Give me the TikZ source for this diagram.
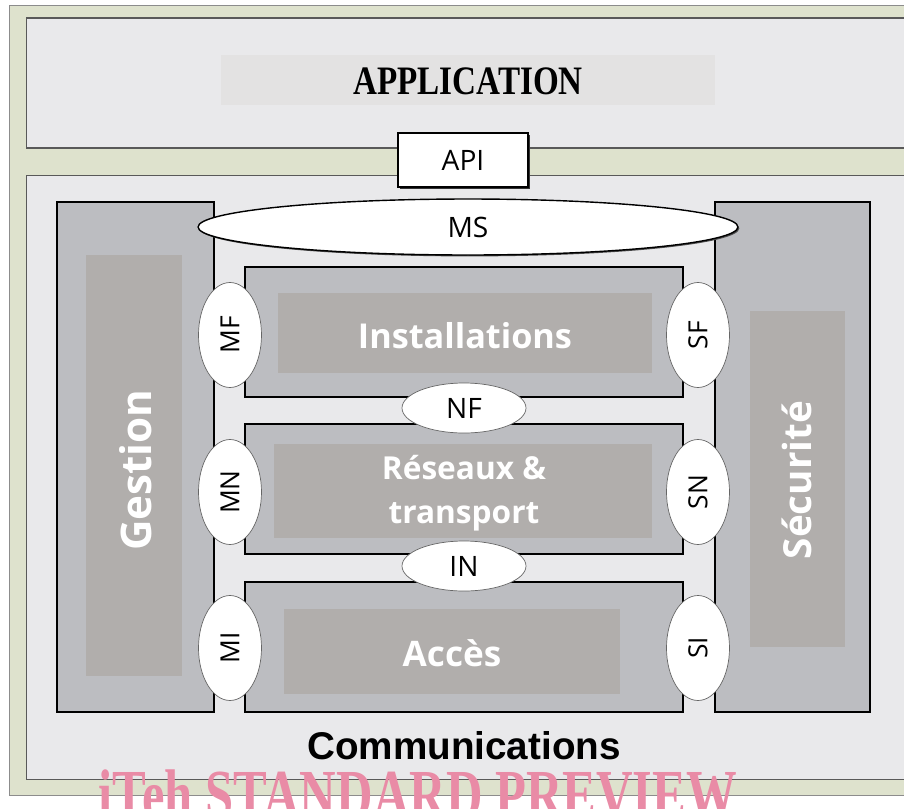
\documentclass[tikz,border=0pt]{standalone}
\usepackage{fontspec}
\setmainfont{Liberation Serif}
\setsansfont{Open Sans}
\newfontfamily\arialbold{Liberation Sans}
\usetikzlibrary{shapes.geometric,shadows}

\definecolor{framegreen}{HTML}{DEE2CD}
\definecolor{panelgray}{HTML}{E9E9EB}
\definecolor{appband}{HTML}{E3E2E2}
\definecolor{colgray}{HTML}{BCBDC1}
\definecolor{bandgray}{HTML}{B1AEAC}
\definecolor{markpink}{HTML}{E98BA6}

\begin{document}
\begin{tikzpicture}[x=0.02cm, y=-0.02cm,
    panel/.style={draw=black!65, fill=panelgray, line width=0.6pt, inner sep=0pt},
    column/.style={draw=black, fill=colgray, line width=0.7pt, inner sep=0pt},
    band/.style={fill=bandgray, inner sep=0pt},
    bigword/.style={text=white, font=\sffamily\bfseries\fontsize{#1}{#1}\selectfont},
    iface/.style={ellipse, draw=black!60, fill=white, line width=0.4pt, inner sep=0pt,
        font=\sffamily\fontsize{16}{16}\selectfont},
    sideface/.style={iface, minimum width=1.26cm, minimum height=2.1cm,
        font=\sffamily\fontsize{15}{15}\selectfont}]
    \useasboundingbox (0,0) rectangle (904,809);
    % frames
    \node[draw=black!45, fill=framegreen, minimum width=18.1cm, minimum height=15.8cm, inner sep=0pt] (frame) at (462,400) {};
    \node[panel, minimum width=17.8cm, minimum height=2.6cm] (app) at (471,83) {};
    \node[fill=appband, minimum width=9.88cm, minimum height=1.0cm, inner sep=0pt] (appband) at (468,80) {};
    \node[font=\bfseries\fontsize{23}{23}\selectfont, xscale=0.82, transform shape] (apptext) at (468,81) {APPLICATION};
    \node[panel, minimum width=17.8cm, minimum height=12.1cm] (comms) at (471,477.5) {};
    \node[draw, fill=white, line width=0.9pt, minimum width=2.6cm, minimum height=1.08cm,
        drop shadow={shadow xshift=1.2pt, shadow yshift=-1.2pt, opacity=1, fill=black!80},
        font=\sffamily\fontsize{16}{16}\selectfont] (api) at (463,160) {API};
    % management and security columns
    \node[column, minimum width=3.14cm, minimum height=10.2cm] (mgmt) at (135.5,457) {};
    \node[band, minimum width=1.92cm, minimum height=8.42cm] (mgmtband) at (134,465.5) {};
    \node[bigword=24, rotate=90] (gestion) at (136,470) {Gestion};
    \node[column, minimum width=3.1cm, minimum height=10.2cm] (secu) at (792.5,457) {};
    \node[band, minimum width=1.9cm, minimum height=6.72cm] (secuband) at (797.5,479) {};
    \node[bigword=22, rotate=90] (securite) at (797,480) {Sécurité};
    % layers
    \node[column, minimum width=8.76cm, minimum height=2.6cm] (fac) at (464,332) {};
    \node[band, minimum width=7.48cm, minimum height=1.6cm] (facband) at (465,333) {};
    \node[bigword=19.5] (factext) at (465,336) {Installations};
    \node[column, minimum width=8.76cm, minimum height=2.6cm] (net) at (464,489) {};
    \node[band, minimum width=7.56cm, minimum height=1.88cm] (netband) at (463,491) {};
    \node[bigword=18, align=center, font=\sffamily\bfseries\fontsize{18}{25}\selectfont] (nettext) at (464,493) {Réseaux \&\\transport};
    \node[column, minimum width=8.76cm, minimum height=2.6cm] (acc) at (464,647) {};
    \node[band, minimum width=6.72cm, minimum height=1.7cm] (accband) at (452,651.5) {};
    \node[bigword=20] (acctext) at (452,653) {Accès};
    % interfaces
    \node[iface, line width=0.8pt, draw=black, minimum width=10.8cm, minimum height=1.12cm,
        drop shadow={shadow xshift=0.8pt, shadow yshift=-0.8pt, opacity=1, fill=black!70}] (ms) at (468,227) {MS};
    \node[sideface] (mf) at (230,335) {\rotatebox{90}{MF}};
    \node[sideface] (mn) at (230,492) {\rotatebox{90}{MN}};
    \node[sideface] (mi) at (230,648) {\rotatebox{90}{MI}};
    \node[sideface] (sf) at (698,335) {\rotatebox{90}{SF}};
    \node[sideface] (sn) at (698,492) {\rotatebox{90}{SN}};
    \node[sideface] (si) at (698,648) {\rotatebox{90}{SI}};
    \node[iface, minimum width=2.48cm, minimum height=1.0cm] (nf) at (464,408) {NF};
    \node[iface, minimum width=2.48cm, minimum height=1.0cm] (in) at (464,566) {IN};
    % bottom texts
    \node[font=\arialbold\bfseries\fontsize{22}{22}\selectfont] (commtext) at (464,746) {Communications};
    \node[anchor=base, text=markpink, font=\bfseries\fontsize{40}{40}\selectfont,
        xscale=0.72, transform shape] (mark) at (418,818) {iTeh STANDARD PREVIEW};
\end{tikzpicture}
\end{document}
